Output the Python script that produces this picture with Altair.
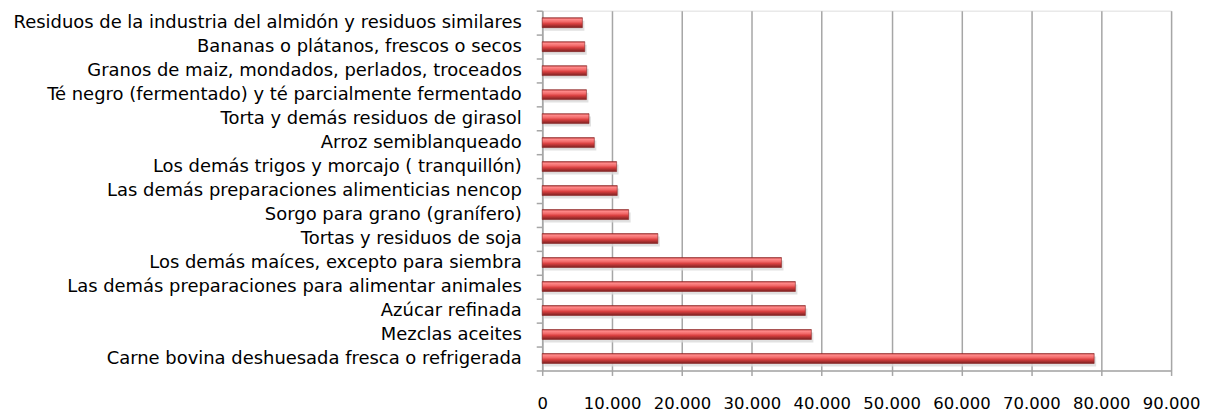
import altair as alt
import pandas as pd

categories = [
    "Residuos de la industria del almidón y residuos similares",
    "Bananas o plátanos, frescos o secos",
    "Granos de maiz, mondados, perlados, troceados",
    "Té negro (fermentado) y té parcialmente fermentado",
    "Torta y demás residuos de girasol ",
    "Arroz semiblanqueado ",
    "Los demás trigos y morcajo ( tranquillón)",
    "Las demás preparaciones alimenticias nencop",
    "Sorgo para grano (granífero) ",
    "Tortas y residuos de soja",
    "Los demás maíces, excepto para siembra",
    "Las demás preparaciones para alimentar animales",
    "Azúcar refinada",
    "Mezclas aceites",
    "Carne bovina deshuesada fresca o refrigerada",
]
values = [5750, 6090, 6370, 6330, 6700, 7460, 10650, 10740, 12370, 16550,
          34240, 36230, 37660, 38520, 78990]
x_ticks = [0, 10000, 20000, 30000, 40000, 50000, 60000, 70000, 80000, 90000]

df = pd.DataFrame({"cat": categories, "val": values})

FONT = "DejaVu Sans"

x_enc = alt.X("val:Q",
              scale=alt.Scale(domain=[0, 90000], nice=False, zero=True),
              axis=alt.Axis(values=x_ticks, title=None, grid=True,
                            gridColor="#a6a6a6", gridWidth=1.5,
                            domainColor="#a6a6a6", domainWidth=1.5,
                            tickColor="#a6a6a6", tickSize=5, tickWidth=1.5,
                            labelFont=FONT, labelFontSize=16.5, labelColor="#000000",
                            labelPadding=20, labelOverlap=False, labelFlush=False,
                            labelExpr="replace(format(datum.value, ','), ',', '.')"))
y_enc = alt.Y("cat:N", sort=categories,
              scale=alt.Scale(paddingInner=0, paddingOuter=0),
              axis=alt.Axis(title=None, grid=False, tickBand="extent",
                            domainColor="#a6a6a6", domainWidth=1.5,
                            tickColor="#a6a6a6", tickSize=6, tickWidth=1.5,
                            labelFont=FONT, labelFontSize=18, labelColor="#000000",
                            labelPadding=15, labelLimit=600))

shadow = alt.Chart(df).mark_bar(size=10, color="#d9d9d9", opacity=0.8,
                                 yOffset=3, xOffset=2).encode(x=x_enc, y=y_enc)

grad = alt.Gradient(
    gradient="linear", x1=0, x2=0, y1=0, y2=1,
    stops=[
        alt.GradientStop(color="#b03030", offset=0),
        alt.GradientStop(color="#ff8c8c", offset=0.15),
        alt.GradientStop(color="#f26a6a", offset=0.4),
        alt.GradientStop(color="#d94040", offset=0.6),
        alt.GradientStop(color="#7a2020", offset=1),
    ])

bars = alt.Chart(df).mark_bar(size=10, color=grad, stroke="#8a2525",
                              strokeWidth=0.6).encode(x=x_enc, y=y_enc)

chart = alt.layer(shadow, bars).properties(
    width=631, height=361,
    autosize=alt.AutoSizeParams(type="none"),
    padding={"left": 536, "top": 2, "right": 30, "bottom": 44},
).configure_view(stroke=None).configure(background="#ffffff")

chart.save("out.html", embed_options={"renderer": "svg", "actions": False})
